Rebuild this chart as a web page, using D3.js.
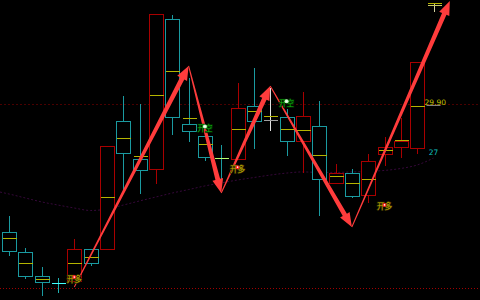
<!DOCTYPE html>
<html>
<head>
<meta charset="utf-8">
<script src="https://cdn.jsdelivr.net/npm/d3@7"></script>
<style>
html, body { margin: 0; background: #000; overflow: hidden; }
</style>
</head>
<body>
<svg id="chart"></svg>
<script>
// K线数据 (27根)
const opens  = [22.11, 20.93, 19.47, 19.05, 19.15, 21.08, 21.09, 28.83, 26.54, 25.93, 35.07, 28.66, 27.97, 26.63,
                26.57, 29.75, 28.89, 29.08, 27.63, 28.57, 25.08, 25.72, 24.37, 26.84, 27.27, 27.20, 35.92];
const closes = [20.99, 19.47, 19.07, 19.05, 21.09, 20.23, 27.32, 26.90, 25.89, 35.33, 29.08, 28.27, 26.69, 26.63,
                29.67, 28.86, 28.89, 27.63, 29.14, 25.32, 25.72, 24.33, 26.41, 27.30, 27.62, 32.46, 35.92];
const highs  = [23.16, 21.23, 20.06, 19.38, 21.78, 21.08, 27.32, 30.44, 29.97, 35.33, 35.35, 31.51, 28.10, 27.45,
                31.21, 32.12, 30.92, 29.65, 30.70, 30.13, 26.29, 25.99, 26.90, 27.97, 29.12, 32.46, 36.04];
const lows   = [20.73, 19.35, 18.30, 18.50, 19.15, 20.12, 21.09, 24.49, 24.49, 25.08, 28.07, 27.66, 26.49, 25.40,
                26.57, 27.24, 28.31, 26.80, 25.78, 23.16, 25.08, 24.27, 23.96, 26.19, 26.69, 26.90, 35.55];
const mids   = [21.76, 20.26, 19.26, 19.05, 20.26, 20.63, 24.25, 27.80, 26.72, 30.42, 31.87, 29.02, 27.45, 26.63,
                28.36, 29.47, 29.14, 28.36, 28.30, 26.78, 25.52, 25.08, 25.32, 27.08, 27.68, 29.77, 36.04];
// 均线: 第一个值在图左边缘, 其余对应每根K线
const ma     = [24.55, 24.43, 24.19, 23.95, 23.76, 23.58, 23.43, 23.52, 23.76, 24.01, 24.25, 24.49, 24.70, 24.92,
                25.10, 25.28, 25.43, 25.58, 25.70, 25.77, 25.74, 25.74, 25.77, 25.80, 25.86, 25.98, 26.19, 26.61];

// 波段箭头
const zzIndex = [4, 11, 13, 16, 21, 27];
const zzPrice = [18.79, 32.20, 24.49, 30.98, 22.43, 36.14];

// 信号
const longIndex  = [4, 14, 23];
const longPrice  = [19.33, 26.00, 23.71];
const shortIndex = [12, 17];
const shortPrice = [28.47, 30.00];

const refLines = [29.90, 18.71];
const priceLabel = "29.90";
const countLabel = "27";

const width = 480, height = 300;
const svg = d3.select('#chart').attr('width', width).attr('height', height);
svg.append('rect').attr('width', width).attr('height', height).attr('fill', '#000');

const x = d3.scaleLinear().domain([0, 26]).range([9, 433.5]);
const y = d3.scaleLinear().domain([18, 36.2]).range([300, 0]);
const py = v => Math.round(y(v)) + 0.5;

// 参考虚线
svg.append('line')
    .attr('x1', 0).attr('x2', width)
    .attr('y1', py(refLines[0])).attr('y2', py(refLines[0]))
    .attr('stroke', '#4a0000').attr('stroke-dasharray', '2,2');
svg.append('line')
    .attr('x1', 0).attr('x2', width)
    .attr('y1', py(refLines[1])).attr('y2', py(refLines[1]))
    .attr('stroke', '#a00000').attr('stroke-dasharray', '1,2');

// 均线
svg.append('path')
    .attr('d', d3.line()
        .x((d, i) => i === 0 ? x(-0.55) : x(i - 1))
        .y(d => y(d))
        .curve(d3.curveMonotoneX)(ma))
    .attr('fill', 'none')
    .attr('stroke', '#36083a')
    .attr('stroke-dasharray', '2,2');

// 十字星颜色
const dojiStyle = {
    3:  { wick: '#20b0b0', line: '#40ffff' },
    13: { wick: '#1a9aa0', line: '#b8ff70' },
    16: { wick: '#e0e0e0', line: '#a0a0a0' },
    26: { wick: '#d0d0a0', line: '#c8c860' }
};

const g = svg.append('g').attr('shape-rendering', 'crispEdges');
const bw = 14;
opens.forEach(function (o, i) {
    const c = closes[i];
    const cx = Math.round(x(i)) + 0.5;
    const left = cx - bw / 2;
    const ds = dojiStyle[i];
    if (ds) {
        g.append('line').attr('x1', cx).attr('x2', cx)
            .attr('y1', py(highs[i])).attr('y2', py(lows[i]))
            .attr('stroke', ds.wick);
        g.append('line').attr('x1', left).attr('x2', left + bw)
            .attr('y1', py(mids[i])).attr('y2', py(mids[i]))
            .attr('stroke', '#b4b400');
        g.append('line').attr('x1', left).attr('x2', left + bw)
            .attr('y1', py(c)).attr('y2', py(c))
            .attr('stroke', ds.line);
        return;
    }
    const col = c > o ? '#a80000' : '#1a9aa0';
    const top = py(Math.max(o, c)), bot = py(Math.min(o, c));
    if (py(highs[i]) < top) {
        g.append('line').attr('x1', cx).attr('x2', cx)
            .attr('y1', py(highs[i])).attr('y2', top).attr('stroke', col);
    }
    if (py(lows[i]) > bot) {
        g.append('line').attr('x1', cx).attr('x2', cx)
            .attr('y1', bot).attr('y2', py(lows[i])).attr('stroke', col);
    }
    g.append('rect')
        .attr('x', left).attr('y', top)
        .attr('width', bw).attr('height', bot - top)
        .attr('fill', '#000').attr('stroke', col);
    g.append('line').attr('x1', left).attr('x2', left + bw)
        .attr('y1', py(mids[i])).attr('y2', py(mids[i]))
        .attr('stroke', '#b4b400');
});

// 波段箭头 (渐粗)
function arrow(ax, ay, bx, by) {
    const dx = bx - ax, dy = by - ay, len = Math.hypot(dx, dy);
    const ux = dx / len, uy = dy / len, nx = -uy, ny = ux;
    const hl = 14, cx = bx - ux * hl, cy = by - uy * hl;
    const pts = [
        [ax + nx * 0.5, ay + ny * 0.5],
        [cx + nx * 2.4, cy + ny * 2.4],
        [cx + nx * 5.5, cy + ny * 5.5],
        [bx, by],
        [cx - nx * 5.5, cy - ny * 5.5],
        [cx - nx * 2.4, cy - ny * 2.4],
        [ax - nx * 0.5, ay - ny * 0.5]
    ];
    svg.append('polygon')
        .attr('points', pts.map(p => p.join(',')).join(' '))
        .attr('fill', '#ff3c3c');
}
for (let k = 0; k < zzIndex.length - 1; k++) {
    arrow(x(zzIndex[k]), y(zzPrice[k]), x(zzIndex[k + 1]), y(zzPrice[k + 1]));
}

// 信号文字
function signal(i, p, txt, col, shadow, dotCol) {
    const tx = x(i), ty = y(p);
    svg.append('text')
        .attr('x', tx).attr('y', ty)
        .attr('text-anchor', 'middle')
        .attr('dominant-baseline', 'central')
        .attr('font-family', '"Noto Sans CJK SC", sans-serif')
        .attr('font-size', 7.5)
        .attr('fill', col)
        .attr('stroke', shadow)
        .attr('stroke-width', 1.5)
        .attr('paint-order', 'stroke')
        .text(txt);
    svg.append('circle').attr('cx', tx).attr('cy', ty - 1).attr('r', 2).attr('fill', dotCol);
    svg.append('circle').attr('cx', tx).attr('cy', ty - 1).attr('r', 0.8).attr('fill', '#fff');
}
longIndex.forEach((d, k) => signal(d, longPrice[k], '开多', '#c0b000', '#302800', '#ff2020'));
shortIndex.forEach((d, k) => signal(d, shortPrice[k], '开空', '#10b810', '#002800', '#d0ffd0'));

// 右侧标签
svg.append('text')
    .attr('x', x(26) - 9).attr('y', y(29.90) + 1)
    .attr('font-family', 'DejaVu Sans, sans-serif')
    .attr('font-size', 7.5)
    .attr('fill', '#c0c000')
    .text(priceLabel);
svg.append('line')
    .attr('x1', x(26) - 7).attr('x2', x(26) + 7)
    .attr('y1', py(29.90) + 1).attr('y2', py(29.90) + 1)
    .attr('stroke', '#808080');
svg.append('text')
    .attr('x', x(26)).attr('y', y(26.9) + 2)
    .attr('text-anchor', 'middle')
    .attr('font-family', 'DejaVu Sans, sans-serif')
    .attr('font-size', 7.5)
    .attr('fill', '#10c0c0')
    .text(countLabel);
</script>
</body>
</html>
